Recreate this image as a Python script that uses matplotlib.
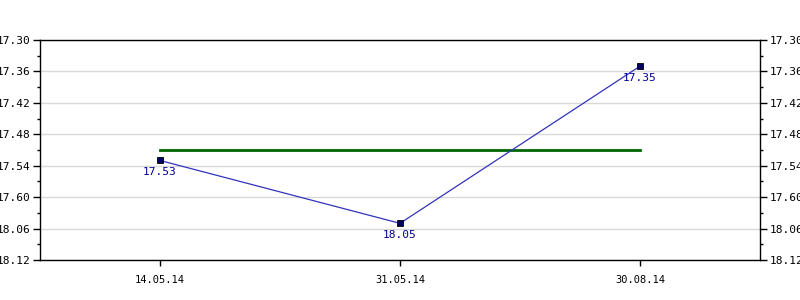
import numpy as np
import matplotlib
matplotlib.use("Agg")
import matplotlib.pyplot as plt

# dates on x, times (min.sec) on y
dates = ["14.05.14", "31.05.14", "30.08.14"]
times = ["17.53", "18.05", "17.35"]
tick_labels = ["17.30", "17.36", "17.42", "17.48", "17.54", "17.60", "18.06", "18.12"]


def to_seconds(s):
	m, sec = s.split(".")
	return int(m) * 60 + int(sec)


secs = np.array([to_seconds(t) for t in times])
avg = secs.mean()  # green line is the mean
y_top = to_seconds(tick_labels[0])
tick_vals = y_top + 6 * np.arange(len(tick_labels))

plt.rcParams['font.family'] = 'DejaVu Sans Mono'

fig = plt.figure(figsize=(8, 3), dpi=100)
ax = fig.add_axes([0.05, 0.1333, 0.9, 0.7334])

x = np.arange(len(dates))
ax.plot(x, secs, color='#3333bb', linewidth=0.9, zorder=3)
ax.plot(x, secs, linestyle='none', marker='s', markersize=4,
		markerfacecolor='#000066', markeredgecolor='#000000', markeredgewidth=0.6, zorder=4)
ax.plot([x[0], x[-1]], [avg, avg], color='#006600', linewidth=2, zorder=2)

for xi, yi, lab in zip(x, secs, times):
	ax.annotate(lab, (xi, yi), xytext=(0, -5), textcoords='offset points',
				ha='center', va='top', color='#000099', fontsize=8)

ax.set_xlim(-0.5, len(dates) - 0.5)
ax.set_ylim(tick_vals[-1], tick_vals[0])
ax.set_xticks(x)
ax.set_xticklabels(dates, fontsize=7.5)
ax.set_yticks(tick_vals)
ax.set_yticklabels(tick_labels, fontsize=8)
ax.set_yticks(tick_vals[:-1] + 3, minor=True)

ax.grid(axis='y', color='#d9d9d9', linewidth=1)
ax.set_axisbelow(True)
ax.tick_params(axis='y', which='major', length=5, width=1, left=True, right=True,
			   labelleft=True, labelright=True, pad=2)
ax.tick_params(axis='y', which='minor', length=2.5, width=1, left=True, right=True)
ax.tick_params(axis='x', length=4, width=1, pad=7)
for sp in ax.spines.values():
	sp.set_linewidth(1)

fig.savefig("out.png", dpi=100)
